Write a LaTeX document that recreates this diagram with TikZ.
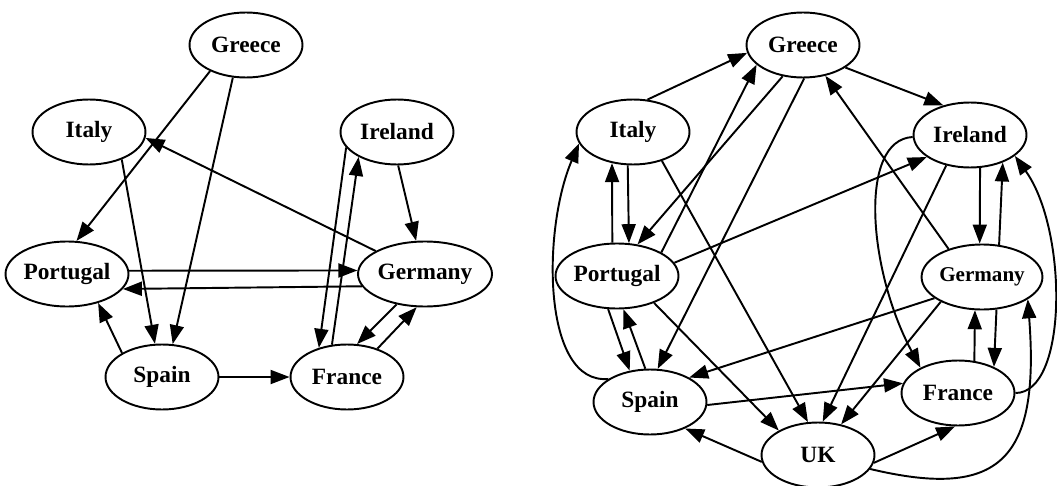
\documentclass[tikz,border=0pt]{standalone}
\usepackage{fontspec}
\setmainfont{Liberation Serif}
\usetikzlibrary{shapes.geometric,arrows.meta}
\tikzset{
  country/.style={draw,ellipse,line width=1.1pt,minimum width=2.26cm,minimum height=1.3cm,inner sep=0pt,font=\fontsize{13.3}{16}\selectfont\bfseries},
  link/.style={line width=1.1pt,-{Triangle[length=0.38cm,width=0.28cm]}}
}
\begin{document}
\begin{tikzpicture}[x=0.02cm,y=-0.02cm]
    \useasboundingbox (0,0) rectangle (1057,486);
    \node[country] (lGre) at (246,45) {Greece};
    \node[country] (lIta) at (89,132) {Italy};
    \node[country] (lIre) at (397,132) {Ireland};
    \node[country] (lPor) at (67,274) {Portugal};
    \node[country] (lGer) at (425,274) {Germany};
    \node[country] (lSpa) at (162,377) {Spain};
    \node[country] (lFra) at (347,377) {France};
    \foreach \a/\b in {lGre.216/lPor.74,lGre.248/lSpa.72,lIta.320/lSpa.102,lGer.155/lIta.354,
        lIre.272/lGer.105,lIre.197/lFra.134,lFra.115/lIre.213,lPor.3/lGer.177,lGer.191/lPor.345,
        lSpa.149/lPor.317,lSpa/lFra,lGer.227/lFra.73,lFra.43/lGer.256}
    \draw[link] (\a) -- (\b);
    \node[country] (rGre) at (803,45) {Greece};
    \node[country] (rIta) at (633,132) {Italy};
    \node[country] (rIre) at (970,135) {Ireland};
    \node[country] (rPor) at (617,276) {Portugal};
    \node[country,font=\fontsize{12}{14}\selectfont\bfseries] (rGer) at (982,277) {Germany};
    \node[country] (rSpa) at (650,402) {Spain};
    \node[country] (rFra) at (958,393) {France};
    \node[country] (rUK) at (818,455) {UK};
    \foreach \a/\b in {rIta.66/rGre.188,rPor.28/rGre.203,rGre.237/rPor.57,rGre.272/rSpa.77,
        rGre.332/rIre.132,rGer.140/rGre.306,rIta.261/rPor.70,rPor.98/rIta.236,rIta.315/rUK.107,
        rPor.13/rIre.207,rIre.287/rGer.94,rGer.62/rIre.320,rIre.232/rUK.82,rGer.204/rSpa.32,
        rGer.211/rUK.53,rFra.63/rGer.258,rGer.294/rFra.36,rUK.352/rFra.265,rUK.187/rSpa.323,
        rSpa.357/rFra.170,rPor.255/rSpa.123,rSpa.98/rPor.281,rPor.324/rUK.148}
    \draw[link] (\a) -- (\b);
    \draw[link] (rIre.182) .. controls (858,140) and (868,270) .. (rFra.146);
    \draw[link] (rFra.east) .. controls (1068,393) and (1068,230) .. (rIre.335);
    \draw[link] (rUK.345) .. controls (1000,500) and (1040,460) .. (rGer.334);
    \draw[link] (rSpa.151) .. controls (542,385) and (542,230) .. (rIta.192);
\end{tikzpicture}
\end{document}
